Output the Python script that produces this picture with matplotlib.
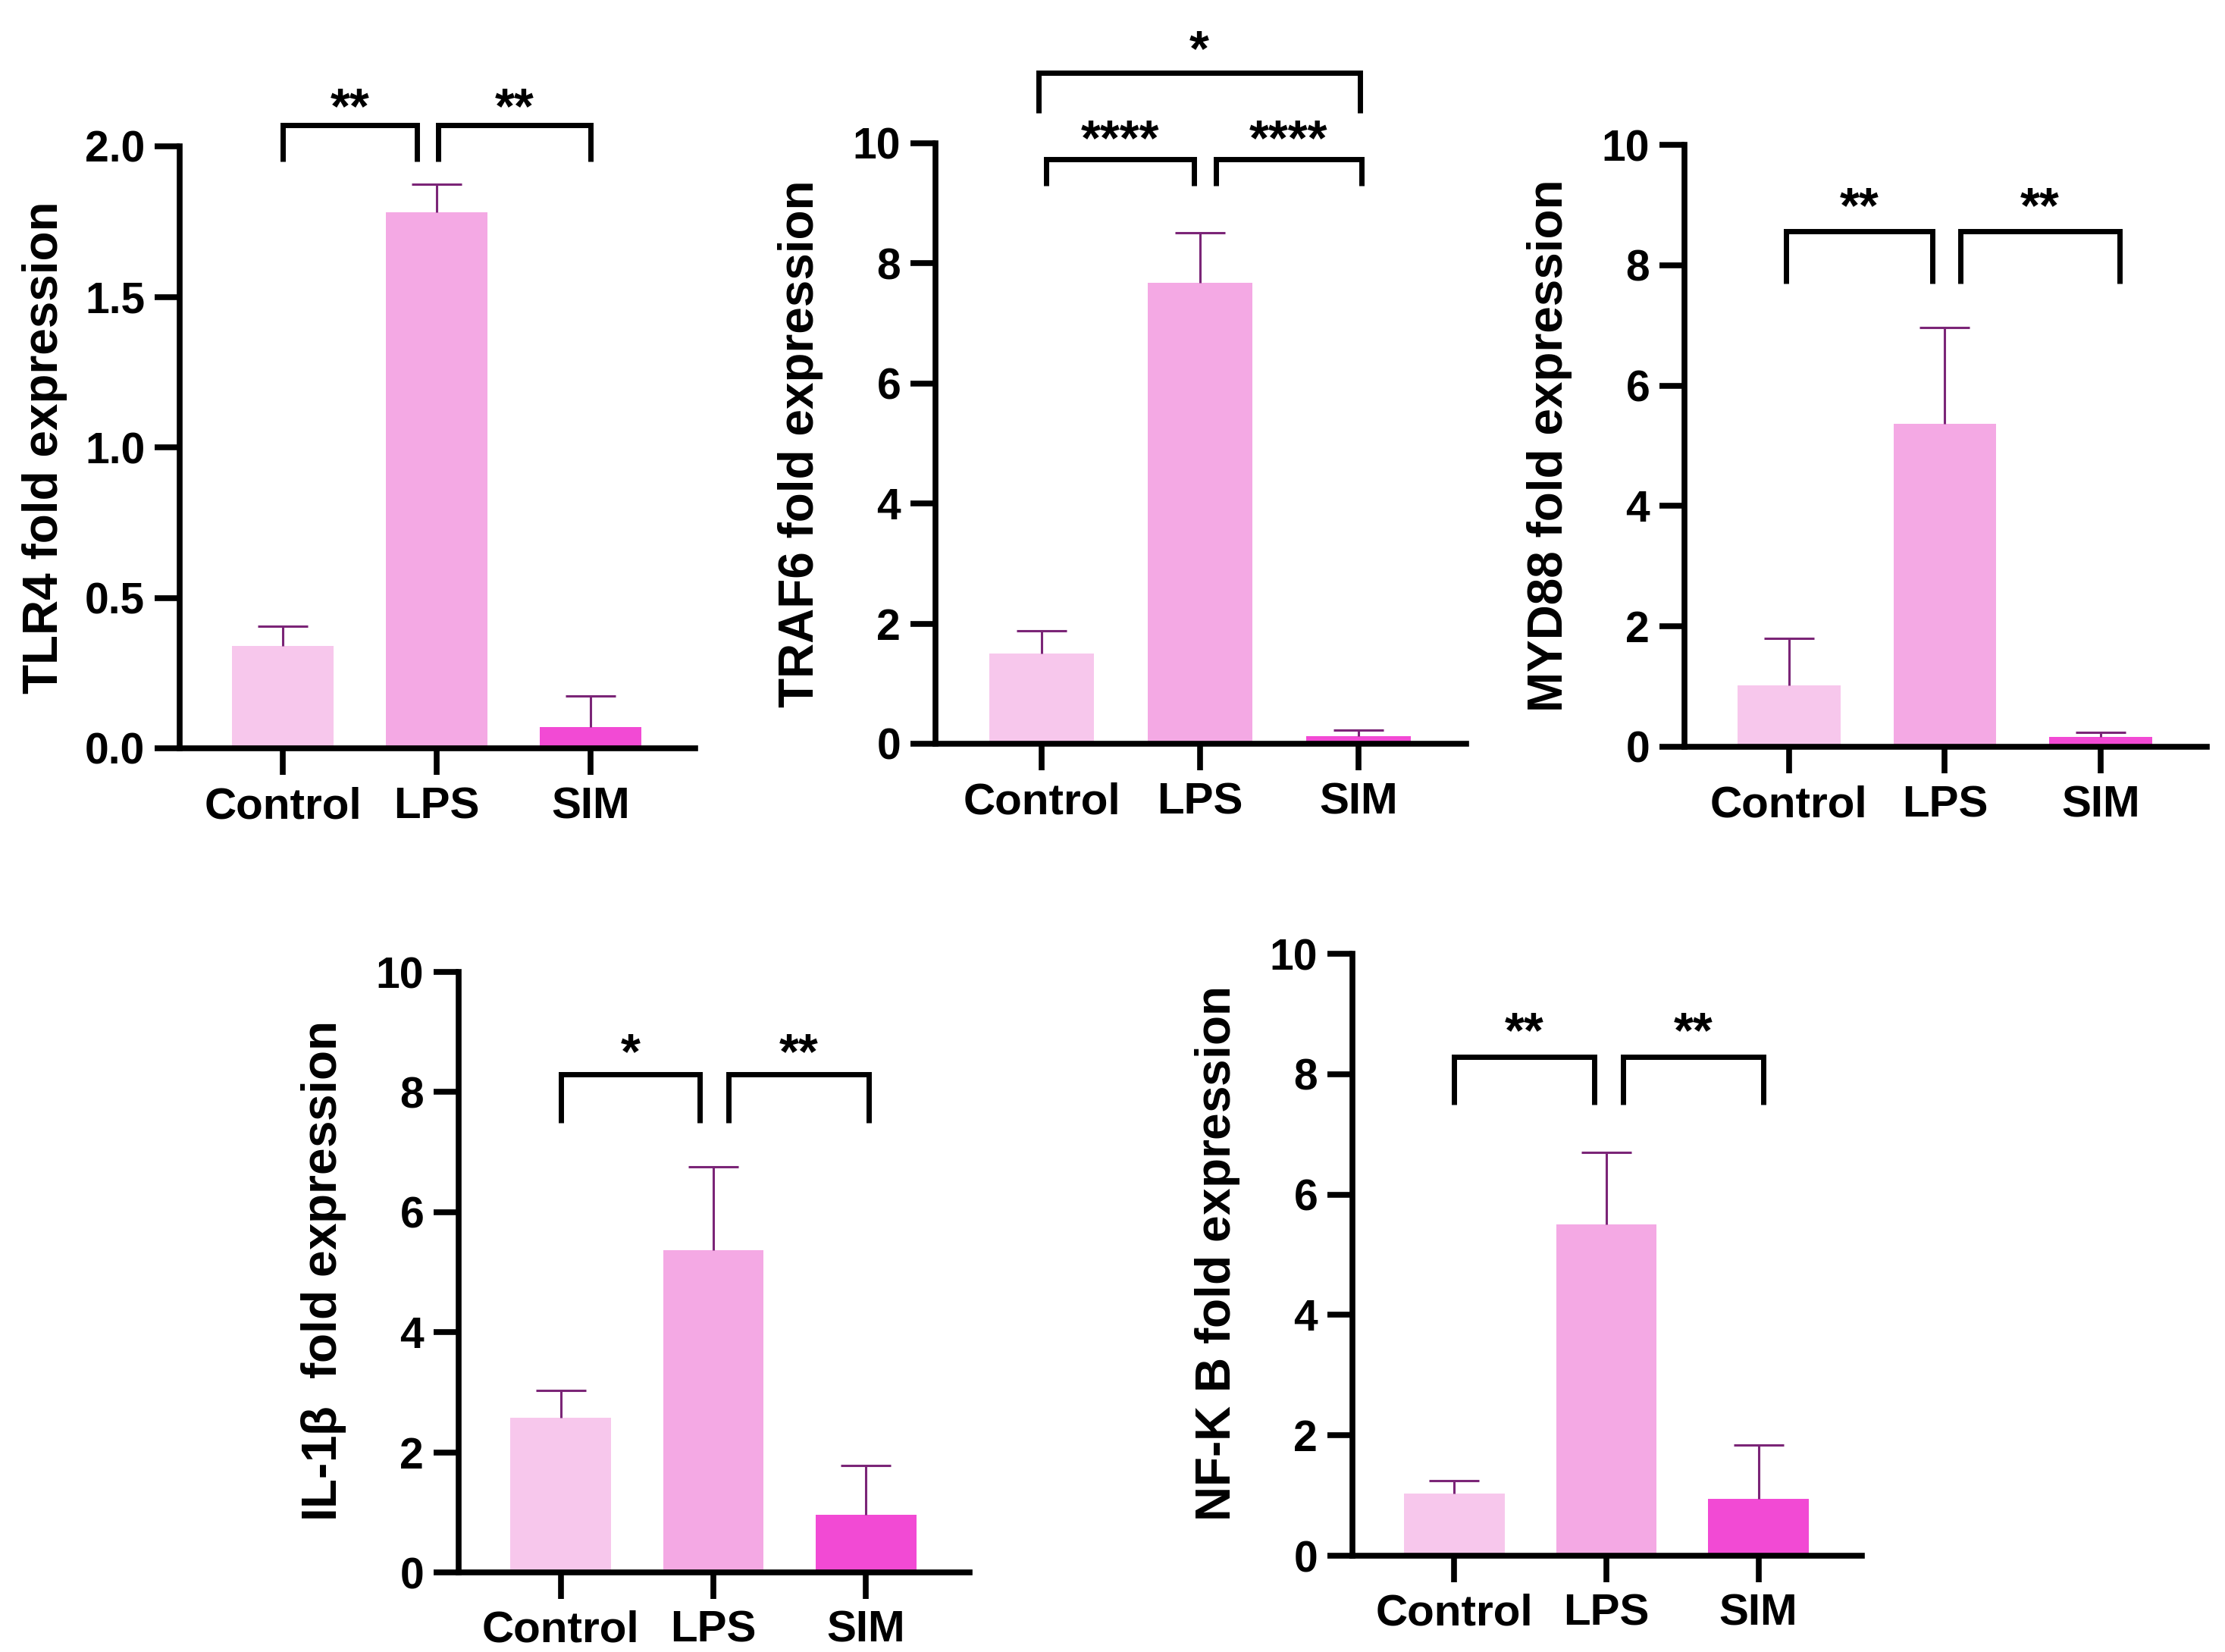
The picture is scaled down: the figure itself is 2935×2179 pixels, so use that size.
import matplotlib
matplotlib.use("Agg")
import matplotlib.pyplot as plt

plt.rcParams['font.family'] = ['Liberation Sans', 'DejaVu Sans']
plt.rcParams['font.weight'] = 'bold'
plt.rcParams['mathtext.fontset'] = 'custom'
plt.rcParams['mathtext.rm'] = 'Liberation Sans'

groups = ['Control', 'LPS', 'SIM']
bar_colors = ['#f7c7ec', '#f4a9e4', '#f24ad4']
err_color = '#7b2577'

# mean and upper error (SEM) for each gene
tlr4_mean = [0.34, 1.78, 0.07]
tlr4_err = [0.065, 0.095, 0.105]
traf6_mean = [1.50, 7.68, 0.12]
traf6_err = [0.38, 0.83, 0.11]
myd88_mean = [1.02, 5.36, 0.17]
myd88_err = [0.78, 1.61, 0.07]
il1b_mean = [2.58, 5.36, 0.96]
il1b_err = [0.45, 1.40, 0.82]
nfkb_mean = [1.03, 5.51, 0.95]
nfkb_err = [0.22, 1.19, 0.89]

# significance brackets: (x1, x2, y_top, y_leg, label, y_text)
tlr4_sig = [(0.0, 0.87, 2.07, 1.95, '**', 2.12), (1.01, 2.0, 2.07, 1.95, '**', 2.12)]
traf6_sig = [(0.03, 0.96, 9.73, 9.29, '****', 10.02), (1.10, 2.02, 9.73, 9.29, '****', 10.02),
             (-0.02, 2.01, 11.18, 10.5, '*', 11.51)]
myd88_sig = [(-0.02, 0.92, 8.56, 7.69, '**', 8.93), (1.10, 2.12, 8.56, 7.69, '**', 8.93)]
il1b_sig = [(0.0, 0.91, 8.29, 7.49, '*', 8.61), (1.10, 2.02, 8.29, 7.49, '**', 8.61)]
nfkb_sig = [(0.0, 0.92, 8.29, 7.49, '**', 8.66), (1.11, 2.03, 8.29, 7.49, '**', 8.66)]

W, H = 2935, 2179
fig = plt.figure(figsize=(W / 100, H / 100), dpi=100)


def rect(l, r, t, b):
    return [l / W, 1 - b / H, (r - l) / W, (b - t) / H]


def panel(box, mean, err, sig, ylabel, ymax, yticks, fmt):
    ax = fig.add_axes(rect(*box))
    x = range(len(groups))
    ax.bar(x, mean, width=0.66, color=bar_colors, zorder=2)
    eb = ax.errorbar(x, mean, yerr=[[0] * len(err), err], fmt='none', ecolor=err_color,
                     elinewidth=2.2, capsize=24, capthick=2.2, zorder=3)
    eb[1][0].set_visible(False)  # only the upper cap
    ax.set_xlim(-0.67, 2.68)
    ax.set_ylim(0, ymax)
    ax.set_yticks(yticks)
    ax.set_yticklabels([fmt.format(v) for v in yticks])
    ax.set_xticks(list(x))
    ax.set_xticklabels(groups)
    for s in ['top', 'right']:
        ax.spines[s].set_visible(False)
    for s in ['left', 'bottom']:
        ax.spines[s].set_linewidth(5.5)
        ax.spines[s].set_zorder(4)
    ax.tick_params(axis='y', length=24, width=5.5, labelsize=41, pad=9)
    ax.tick_params(axis='x', length=25, width=5.5, labelsize=42, pad=11)
    wpx = box[1] - box[0]
    ax.text(-178 / wpx, 0.5, ylabel, transform=ax.transAxes, rotation=90,
            ha='center', va='center', fontsize=46, fontweight='bold')
    for x1, x2, yt, yl, lab, ytxt in sig:
        ax.plot([x1, x1, x2, x2], [yl, yt, yt, yl], color='black', lw=5,
                clip_on=False, solid_joinstyle='miter', solid_capstyle='butt')
        ax.text((x1 + x2) / 2, ytxt, lab, ha='center', va='center', fontsize=48,
                fontweight='bold', clip_on=False)
    return ax


panel((237, 917, 193, 987), tlr4_mean, tlr4_err, tlr4_sig, 'TLR4 fold expression',
      2.0, [0.0, 0.5, 1.0, 1.5, 2.0], '{:.1f}')
panel((1234, 1934, 189, 981), traf6_mean, traf6_err, traf6_sig, 'TRAF6 fold expression',
      10, [0, 2, 4, 6, 8, 10], '{:d}')
panel((2222, 2911, 191, 985), myd88_mean, myd88_err, myd88_sig, 'MYD88 fold expression',
      10, [0, 2, 4, 6, 8, 10], '{:d}')
panel((605, 1279, 1282, 2074), il1b_mean, il1b_err, il1b_sig, r'IL-1$\mathrm{\beta}$  fold expression',
      10, [0, 2, 4, 6, 8, 10], '{:d}')
panel((1784, 2456, 1258, 2052), nfkb_mean, nfkb_err, nfkb_sig, 'NF-$\\mathrm{\u039a}$ B fold expression',
      10, [0, 2, 4, 6, 8, 10], '{:d}')

fig.savefig('out.png', dpi=100, facecolor='white')
